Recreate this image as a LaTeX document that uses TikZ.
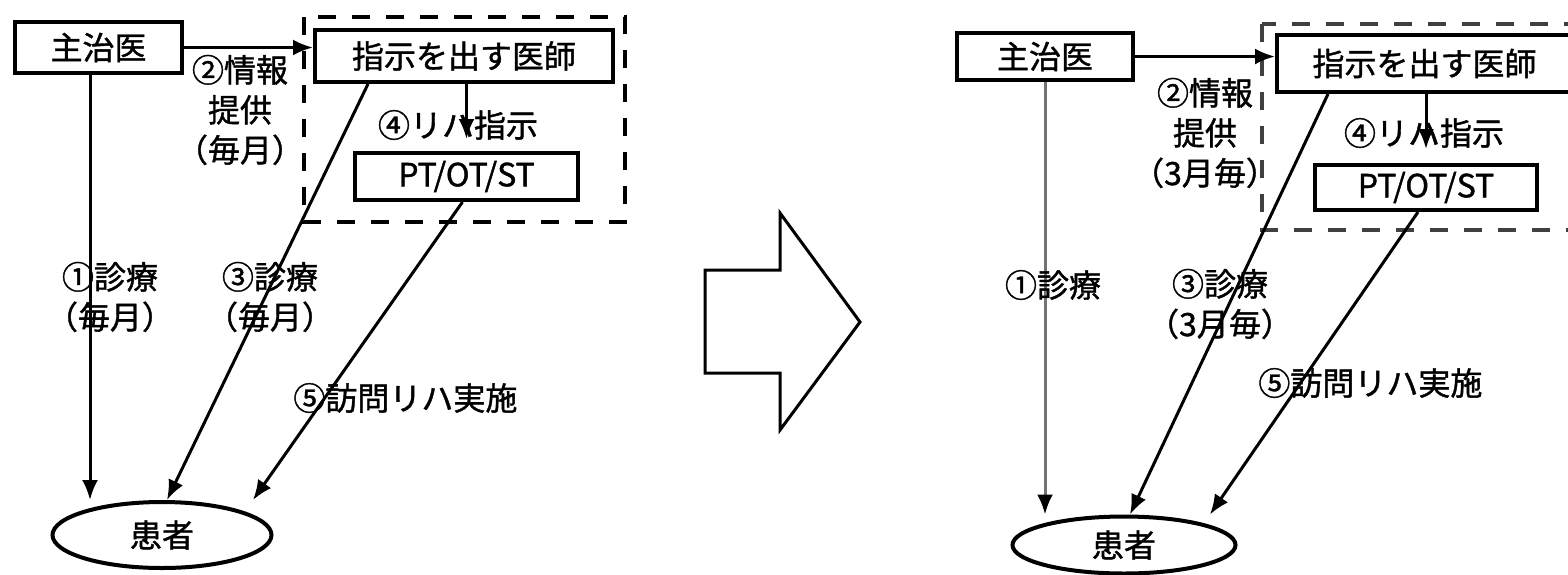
\documentclass[tikz,border=0pt]{standalone}
\usepackage{fontspec}
\setmainfont{Noto Sans CJK JP}[FakeBold=1.2]
\usetikzlibrary{arrows.meta,shapes.geometric}
\begin{document}
\begin{tikzpicture}[x=0.5pt,y=-0.5pt,
  box/.style={draw, line width=2pt, inner sep=0pt, font=\fontsize{16}{20}\selectfont},
  pat/.style={ellipse, draw, line width=2pt, inner sep=0pt, font=\fontsize{16}{20}\selectfont},
  lbl/.style={inner sep=0pt, align=center, font=\fontsize{16}{20}\selectfont},
  arr/.style={line width=1.5pt, -{Latex[length=10pt,width=8pt,color=black]}},
  dashbox/.style={line width=2pt, dash pattern=on 9pt off 8pt}]
\useasboundingbox (0,0) rectangle (1568,574);
\fill[white] (0,0) rectangle (1568,574);

% ---------- left panel ----------
\draw[dashbox] (304,17) rectangle (625,222);
\node[box, minimum width=83.5pt, minimum height=25.5pt] (zhuL) at (98.5,47.5) {主治医};
\node[box, minimum width=149pt, minimum height=26pt, fill=white] (shijiL) at (464,56) {指示を出す医師};
\node[box, minimum width=111.5pt, minimum height=23.5pt] (ptL) at (466.5,176.5) {PT/OT/ST};
\node[pat, minimum width=109.5pt, minimum height=33pt] (patL) at (162,535) {患者};

\coordinate (v1L) at ([xshift=-4.25pt]zhuL.south);
\draw[arr] (zhuL.east) -- (zhuL.east -| shijiL.west);
\draw[arr, shorten >=6pt] (ptL.north |- shijiL.south) -- (ptL.north);
\draw[arr] (v1L) -- (v1L |- patL.north);
\draw[arr] ([xshift=27.5pt]shijiL.south west) -- ([xshift=2.5pt]patL.north);
\draw[arr] ([xshift=-2pt]ptL.south) -- ([xshift=45.5pt]patL.north);

\node[lbl] (infoL) at (240,110) {②情報\\提供\\（毎月）};
\node[lbl] (exam1L) at (110,297) {①診療\\（毎月）};
\node[lbl] (exam3L) at (270,297) {③診療\\（毎月）};
\node[lbl] (rehaL) at (458,125) {④リハ指示};
\node[lbl, anchor=west] (visitL) at (293,398) {⑤訪問リハ実施};

% ---------- big arrow ----------
\draw[line width=1.5pt, fill=white] (705,270) -- (780,270) -- (780,213) -- (860,322)
  -- (780,430) -- (780,373) -- (705,373) -- cycle;

% ---------- right panel ----------
\draw[dashbox, draw=black!75] (1262,24) rectangle (1590,230);
\node[box, minimum width=88pt, minimum height=23.5pt] (zhuR) at (1045,56.5) {主治医};
\node[box, minimum width=147.5pt, minimum height=28.5pt, fill=white] (shijiR) at (1424.5,63.5) {指示を出す医師};
\node[box, minimum width=111pt, minimum height=22.5pt] (ptR) at (1426,187.5) {PT/OT/ST};
\node[pat, minimum width=111.5pt, minimum height=28.5pt] (patR) at (1124,545) {患者};

\draw[arr] (zhuR.east) -- (zhuR.east -| shijiR.west);
\draw[arr, shorten >=7pt] (ptR.north |- shijiR.south) -- (ptR.north);
\draw[arr, draw=black!55] (zhuR.south) -- (zhuR.south |- patR.north);
\draw[arr] ([xshift=26.5pt]shijiR.south west) -- ([xshift=3pt]patR.north);
\draw[arr] ([xshift=-4pt]ptR.south) -- ([xshift=43pt]patR.north);

\node[lbl] (infoR) at (1205,133) {②情報\\提供\\（3月毎）};
\node[lbl] (exam1R) at (1053,285) {①診療};
\node[lbl] (exam3R) at (1220,304) {③診療\\（3月毎）};
\node[lbl] (rehaR) at (1424,133) {④リハ指示};
\node[lbl, anchor=west] (visitR) at (1258,383) {⑤訪問リハ実施};
\end{tikzpicture}
\end{document}
